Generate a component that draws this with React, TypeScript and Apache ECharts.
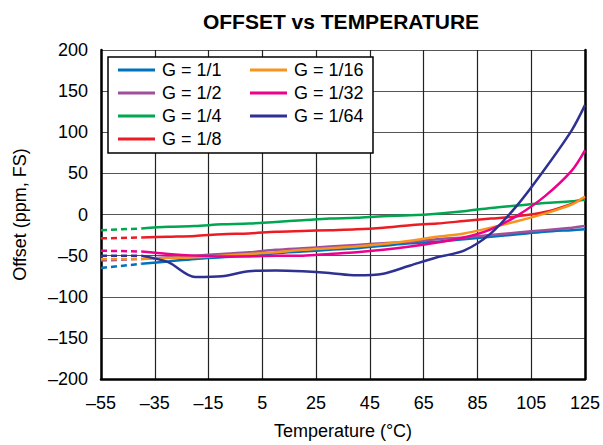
import React, { useEffect, useRef } from "react";
import * as echarts from "echarts";

const temps = [-55, -40, -30, -20, -10, 0, 10, 20, 30, 40, 50, 60, 70, 80, 90, 100, 110, 120, 125];
const seriesNames = ["G = 1/1", "G = 1/2", "G = 1/4", "G = 1/8", "G = 1/16", "G = 1/32", "G = 1/64"];
const g1_1 = [-65, -60, -57, -54, -52, -50, -47, -45, -43, -41, -38, -35, -33, -30, -27, -24, -21, -19, -18];
const g1_2 = [-56, -54, -52, -50, -48, -46, -43, -41, -39, -37, -35, -33, -30, -28, -25, -22, -19, -16, -14];
const g1_4 = [-19, -17, -15, -14, -12, -11, -9, -7, -5, -4, -2, -1, 1, 4, 8, 11, 14, 16, 18];
const g1_8 = [-29, -28, -27, -26, -24, -23, -21, -20, -19, -18, -16, -13, -11, -8, -5, -2, 3, 13, 21];
const g1_16 = [-54, -54, -53, -52, -50, -48, -46, -43, -41, -39, -36, -32, -27, -23, -16, -8, 1, 12, 22];
const g1_32 = [-44, -45, -48, -50, -51, -51, -50, -50, -48, -46, -43, -39, -34, -28, -18, -1, 22, 53, 78];
const g1_64 = [-50, -50, -58, -76, -75, -69, -68, -69, -71, -74, -72, -62, -52, -44, -23, 12, 55, 102, 133];
const allValues = [g1_1, g1_2, g1_4, g1_8, g1_16, g1_32, g1_64];
const colors = ["#0072BC", "#A0509A", "#00A650", "#ED1C24", "#F7941D", "#EC008C", "#2E3192"];
const xMinT = -55;

const FONT = "Liberation Sans, Arial, Helvetica, sans-serif";
const fmtNum = (v: number) => (v < 0 ? "\u2013" + Math.abs(v) : String(v));

export default function App() {
  const ref = useRef<HTMLDivElement>(null);
  useEffect(() => {
    if (!ref.current) return;
    const chart = echarts.init(ref.current, undefined, { renderer: "svg" });
    const series: any[] = [];
    allValues.forEach((vals, i) => {
      const pts = temps.map((t, k) => [t - xMinT, vals[k]]);
      series.push({
        name: seriesNames[i],
        type: "line",
        data: pts.slice(0, 2),
        symbol: "none",
        smooth: false,
        lineStyle: { color: colors[i], width: 2.5, type: [6, 4] },
        itemStyle: { color: colors[i] },
        z: 2 + i * 0.01,
      });
      series.push({
        name: seriesNames[i],
        type: "line",
        data: pts.slice(1),
        symbol: "none",
        smooth: 0.3,
        lineStyle: { color: colors[i], width: 2.5 },
        itemStyle: { color: colors[i] },
        z: 2 + i * 0.01,
      });
    });
    const legendCommon = {
      orient: "vertical",
      icon: "rect",
      itemWidth: 37,
      itemHeight: 3,
      itemGap: 5,
      padding: 0,
      selectedMode: false,
      textStyle: { fontFamily: FONT, fontSize: 18, color: "#000", padding: [0, 0, 0, 2] },
      z: 5,
    };
    chart.setOption({
      animation: false,
      backgroundColor: "#fff",
      title: {
        text: "OFFSET vs TEMPERATURE",
        left: 336,
        top: 6,
        textAlign: "center",
        textStyle: { fontFamily: FONT, fontSize: 21, fontWeight: "bold", color: "#000" },
      },
      legend: [
        { ...legendCommon, left: 118, top: 61, data: seriesNames.slice(0, 4) },
        { ...legendCommon, left: 250, top: 61, data: seriesNames.slice(4) },
      ],
      graphic: [
        {
          type: "rect",
          shape: { x: 108, y: 57, width: 265, height: 96 },
          style: { fill: "#fff", stroke: "#000", lineWidth: 1.5 },
          z: 4,
        },
      ],
      grid: { left: 101, right: 15, top: 50, bottom: 65 },
      xAxis: {
        type: "value",
        min: 0,
        max: 180,
        interval: 20,
        name: "Temperature (\u00B0C)",
        nameLocation: "middle",
        nameGap: 43,
        nameTextStyle: { fontFamily: FONT, fontSize: 18, color: "#000" },
        axisLine: { show: true, onZero: false, lineStyle: { color: "#000", width: 2.5 } },
        axisTick: { show: false },
        axisLabel: {
          fontFamily: FONT,
          fontSize: 18,
          color: "#000",
          margin: 15,
          formatter: (v: number) => fmtNum(v + xMinT),
        },
        splitLine: { show: true, lineStyle: { color: "#222", width: 1.2 } },
      },
      yAxis: [
        {
          type: "value",
          min: -200,
          max: 200,
          interval: 50,
          name: "Offset (ppm, FS)",
          nameLocation: "middle",
          nameGap: 72,
          nameTextStyle: { fontFamily: FONT, fontSize: 18, color: "#000" },
          axisLine: { show: true, lineStyle: { color: "#000", width: 2.5 } },
          axisTick: { show: false },
          axisLabel: { fontFamily: FONT, fontSize: 18, color: "#000", margin: 13, formatter: fmtNum },
          splitLine: { show: true, lineStyle: { color: "#555", width: 1.2 } },
        },
        {
          type: "value",
          min: -200,
          max: 200,
          interval: 50,
          position: "right",
          axisLine: { show: true, lineStyle: { color: "#000", width: 2.5 } },
          axisTick: { show: false },
          axisLabel: { show: false },
          splitLine: { show: false },
        },
      ],
      series,
    });
    return () => chart.dispose();
  }, []);
  return <div ref={ref} style={{ width: 603, height: 445, position: "absolute", left: 0, top: 0 }} />;
}
